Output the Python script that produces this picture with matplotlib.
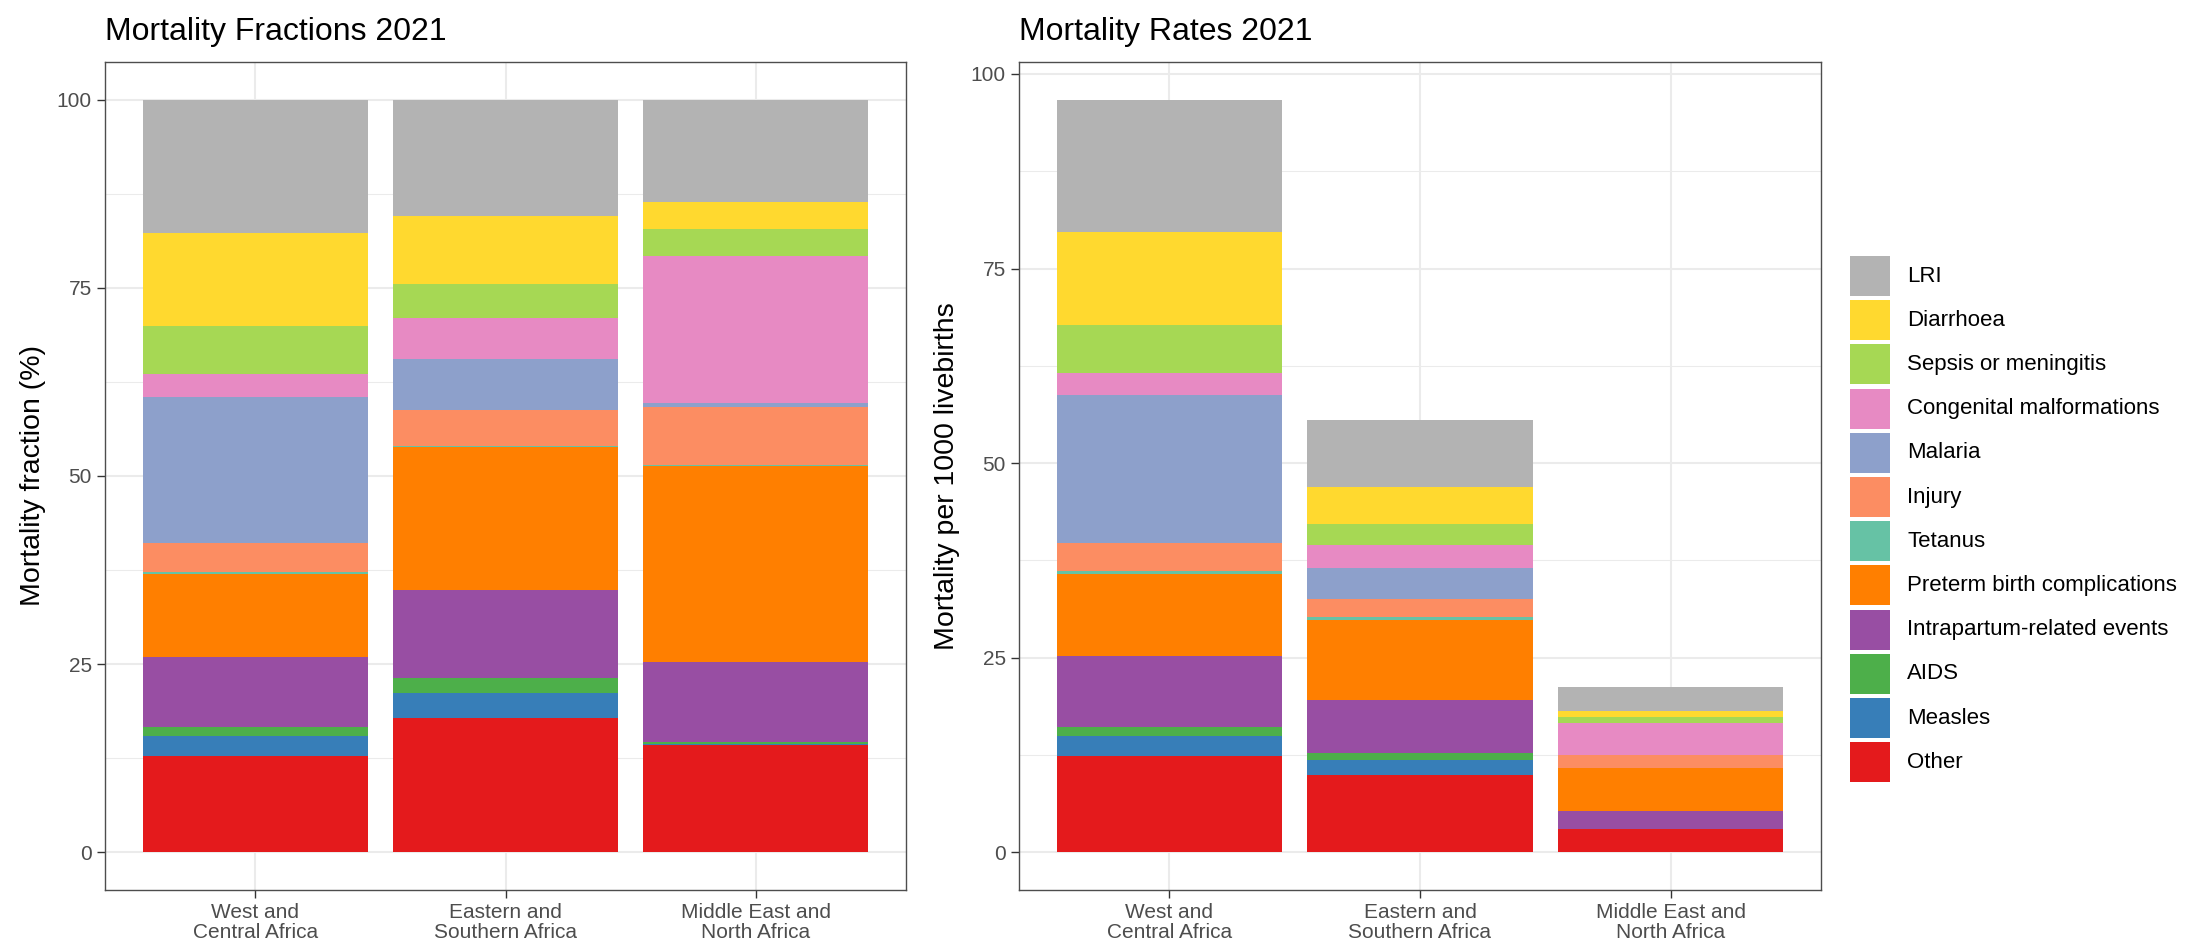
import matplotlib
matplotlib.use("Agg")
import matplotlib.pyplot as plt
from matplotlib.patches import Rectangle
import numpy as np

plt.rcParams['font.family'] = ['Liberation Sans', 'DejaVu Sans']

# Regions (x axis)
regions = ["West and\nCentral Africa", "Eastern and\nSouthern Africa", "Middle East and\nNorth Africa"]

# Causes, bottom of the stack first
causes = ["Other", "Measles", "AIDS", "Intrapartum-related events",
          "Preterm birth complications", "Tetanus", "Injury", "Malaria",
          "Congenital malformations", "Sepsis or meningitis", "Diarrhoea", "LRI"]

cause_colors = ["#E41A1C", "#377EB8", "#4DAF4A", "#984EA3",
                "#FF7F00", "#66C2A5", "#FC8D62", "#8DA0CB",
                "#E78AC3", "#A6D854", "#FFD92F", "#B3B3B3"]

# Mortality fractions (%), one list per cause, values per region
frac_other = [12.8, 17.9, 14.3]
frac_measles = [2.7, 3.3, 0.1]
frac_aids = [1.1, 2.0, 0.2]
frac_intrapartum = [9.4, 11.7, 10.7]
frac_preterm = [11.0, 18.9, 26.0]
frac_tetanus = [0.3, 0.2, 0.1]
frac_injury = [3.8, 4.8, 7.8]
frac_malaria = [19.4, 6.8, 0.5]
frac_congenital = [3.0, 5.4, 19.5]
frac_sepsis = [6.4, 4.5, 3.6]
frac_diarrhoea = [12.4, 9.1, 3.6]
frac_lri = [17.7, 15.4, 13.6]

# Mortality rates per 1000 livebirths
rate_other = [12.4, 9.9, 3.0]
rate_measles = [2.6, 2.0, 0.02]
rate_aids = [1.1, 0.9, 0.02]
rate_intrapartum = [9.1, 6.8, 2.3]
rate_preterm = [10.6, 10.3, 5.5]
rate_tetanus = [0.3, 0.3, 0.02]
rate_injury = [3.7, 2.4, 1.6]
rate_malaria = [18.9, 3.9, 0.1]
rate_congenital = [2.9, 3.0, 4.1]
rate_sepsis = [6.2, 2.7, 0.75]
rate_diarrhoea = [11.9, 4.7, 0.8]
rate_lri = [17.0, 8.7, 3.0]

fractions = [frac_other, frac_measles, frac_aids, frac_intrapartum, frac_preterm,
             frac_tetanus, frac_injury, frac_malaria, frac_congenital, frac_sepsis,
             frac_diarrhoea, frac_lri]
rates = [rate_other, rate_measles, rate_aids, rate_intrapartum, rate_preterm,
         rate_tetanus, rate_injury, rate_malaria, rate_congenital, rate_sepsis,
         rate_diarrhoea, rate_lri]

W, H = 2186, 948
fig = plt.figure(figsize=(W / 100, H / 100), dpi=100)


def px_axes(x0, y0, x1, y1):
    # pixel box (top-left origin) -> figure axes
    return fig.add_axes([x0 / W, 1 - y1 / H, (x1 - x0) / W, (y1 - y0) / H])


def draw_panel(ax, data, title, ylabel):
    x = np.arange(len(regions))
    bottom = np.zeros(len(regions))
    for vals, col in zip(data, cause_colors):
        ax.bar(x, vals, width=0.9, bottom=bottom, color=col, linewidth=0, zorder=3)
        bottom += np.array(vals)
    top = bottom.max()
    ax.set_xlim(-0.6, len(regions) - 0.4)
    ax.set_ylim(-0.05 * top, top * 1.05)
    ax.set_xticks(x)
    ax.set_xticklabels(regions, linespacing=1.05)
    ax.set_yticks([0, 25, 50, 75, 100])
    ax.set_yticks([12.5, 37.5, 62.5, 87.5], minor=True)
    ax.grid(True, which='major', color='#EBEBEB', linewidth=1.5, zorder=0)
    ax.grid(True, which='minor', axis='y', color='#EBEBEB', linewidth=0.75, zorder=0)
    ax.tick_params(axis='both', which='major', length=6, width=1.0, color='#333333',
                   labelsize=15, labelcolor='#4D4D4D', pad=3.5)
    ax.tick_params(axis='y', which='minor', length=0)
    for s in ax.spines.values():
        s.set_color('#4D4D4D')
        s.set_linewidth(1.0)
    ax.set_axisbelow(True)
    ax.set_title(title, loc='left', fontsize=23, pad=15.5)
    ax.set_ylabel(ylabel, fontsize=20.5, labelpad=8)


ax1 = px_axes(105, 62, 906, 890)
draw_panel(ax1, fractions, "Mortality Fractions 2021", "Mortality fraction (%)")

ax2 = px_axes(1019, 62, 1821, 890)
draw_panel(ax2, rates, "Mortality Rates 2021", "Mortality per 1000 livebirths")

# legend drawn by hand in a pixel-space axes so key size and spacing match
lg = px_axes(1840, 240, 2186, 800)
lg.set_xlim(1840, 2186)
lg.set_ylim(800, 240)
lg.axis('off')
for i, (lab, col) in enumerate(zip(causes[::-1], cause_colors[::-1])):
    y0 = 256 + i * 44.2
    lg.add_patch(Rectangle((1850, y0), 40, 40, facecolor=col, linewidth=0))
    lg.text(1907, y0 + 20, lab, fontsize=16, va='center', ha='left', color='black')

fig.savefig("out.png", dpi=100)
